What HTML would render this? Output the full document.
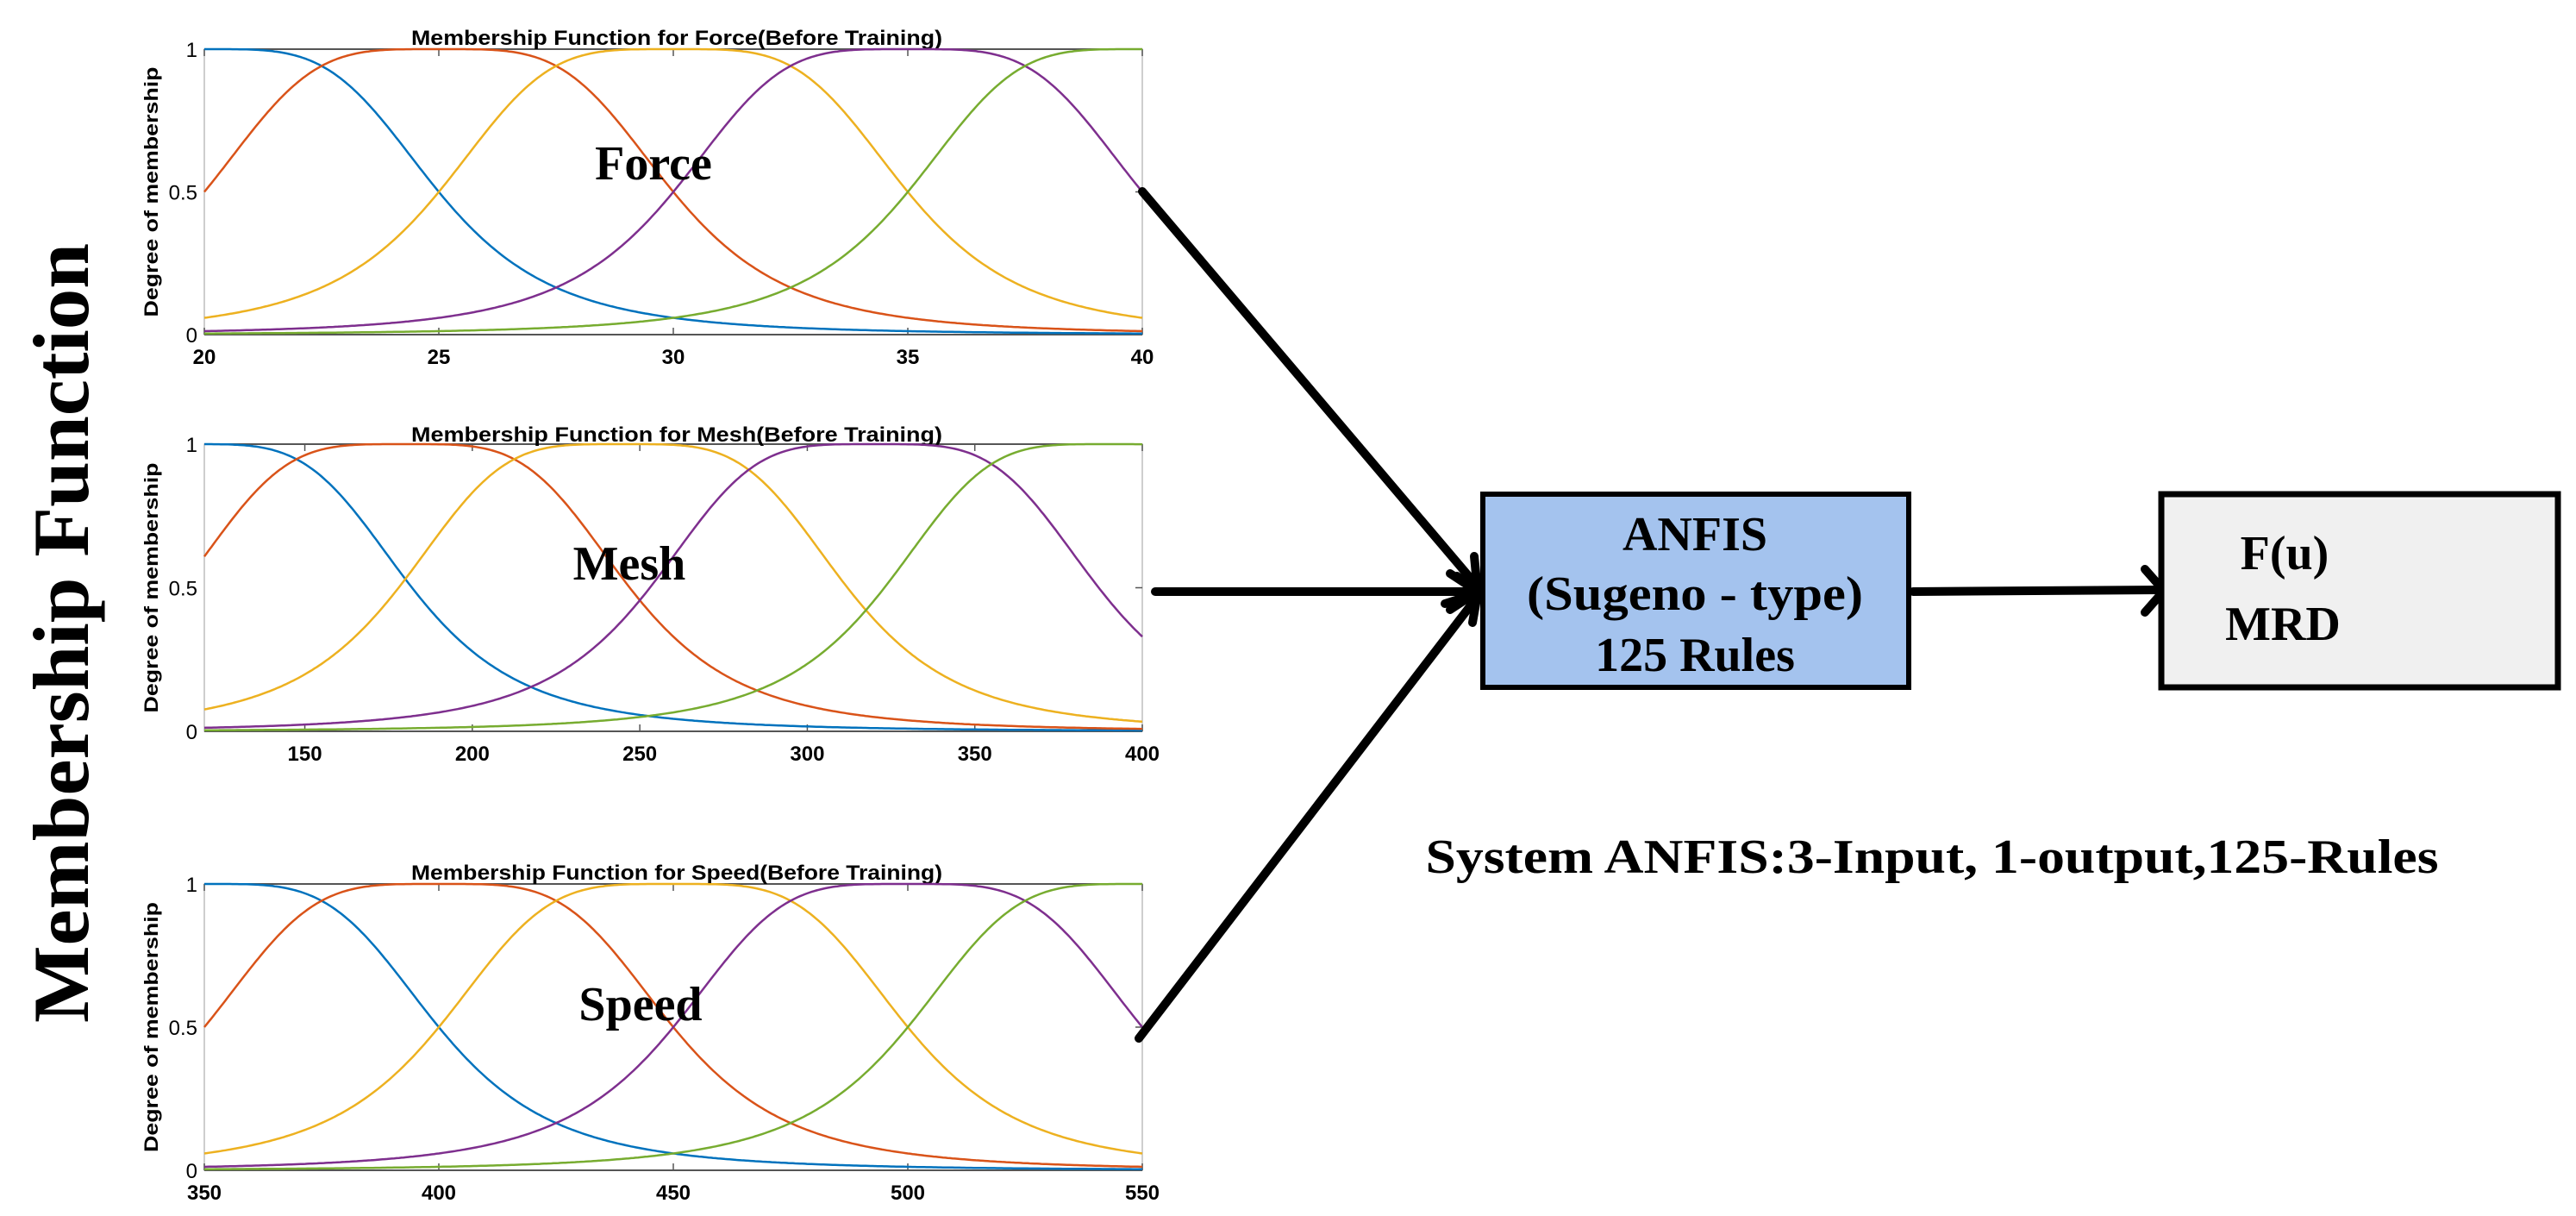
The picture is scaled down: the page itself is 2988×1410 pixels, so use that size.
<!DOCTYPE html>
<html><head><meta charset="utf-8"><style>
html,body{margin:0;padding:0;background:#fff;}
svg{display:block;}
</style></head><body>
<svg id="s" width="2988" height="1410" viewBox="0 0 2988 1410" xmlns="http://www.w3.org/2000/svg">
<rect width="2988" height="1410" fill="#fff"/>
<text transform="translate(102,734) rotate(-90)" text-anchor="middle" font-family="Liberation Serif, serif" font-weight="bold" font-size="92" textLength="904" lengthAdjust="spacingAndGlyphs">Membership Function</text>
<g id="plots"></g>
<g stroke="#000" stroke-width="10" fill="none" stroke-linecap="round" stroke-linejoin="round">
<line x1="1325" y1="222" x2="1712" y2="678"/>
<line x1="1340" y1="686" x2="1712" y2="686"/>
<line x1="1321" y1="1204" x2="1712" y2="694"/>
<polyline points="1682,665 1714,686 1682,707"/>
<polyline points="1710,645 1714,686 1690,668"/>
<polyline points="1676,700 1714,688 1708,722"/>
<line x1="2219" y1="686" x2="2506" y2="684"/>
<polyline points="2488,660 2510,685 2488,710"/>
</g>
<rect x="1720" y="573" width="494" height="224" fill="#a4c3ee" stroke="#000" stroke-width="6"/>
<rect x="1720" y="570" width="494" height="6" fill="#000"/>
<rect x="2507" y="573" width="460" height="224" fill="#f0f0f0" stroke="#000" stroke-width="7"/>
<rect x="2507" y="570" width="460" height="6" fill="#000"/>
<g font-family="Liberation Serif, serif" font-weight="bold" font-size="56" text-anchor="middle">
<text x="1966" y="638">ANFIS</text>
<text x="1966" y="707" textLength="390" lengthAdjust="spacingAndGlyphs">(Sugeno - type)</text>
<text x="1966" y="778">125 Rules</text>
<text x="2650" y="660">F(u)</text>
<text x="2648" y="742">MRD</text>
<text x="2241" y="1012" textLength="1175" lengthAdjust="spacingAndGlyphs">System ANFIS:3-Input, 1-output,125-Rules</text>
</g>
</svg>
<script>
(function(){
var NS="http://www.w3.org/2000/svg";
var g=document.getElementById("plots");
var cols=["#0072BD","#D95319","#EDB120","#7E2F8E","#77AC30"];
function el(t,a,txt){var e=document.createElementNS(NS,t);for(var k in a)e.setAttribute(k,a[k]);if(txt!=null)e.textContent=txt;g.appendChild(e);return e;}
var plots=[
 {top:57,bot:388,title:"Membership Function for Force(Before Training)",ty:44,xmin:20,xmax:40,ticks:[20,25,30,35,40],c:[20,25,30,35,40],a:5,lab:"Force",lx:758,ly:208},
 {top:515,bot:848,title:"Membership Function for Mesh(Before Training)",ty:504,xmin:120,xmax:400,ticks:[150,200,250,300,350,400],c:[115,180,245,320,390],a:67,lab:"Mesh",lx:730,ly:672},
 {top:1025,bot:1357,title:"Membership Function for Speed(Before Training)",ty:1012,xmin:350,xmax:550,ticks:[350,400,450,500,550],c:[350,400,450,500,550],a:50,lab:"Speed",lx:743,ly:1183}
];
var L=237,R=1325;
plots.forEach(function(p){
 var H=p.bot-p.top;
 function X(v){return L+(v-p.xmin)/(p.xmax-p.xmin)*(R-L);}
 el("rect",{x:L,y:p.top,width:R-L,height:H,fill:"#fff",stroke:"#bdbdbd","stroke-width":1.5});
 el("line",{x1:L,y1:p.top,x2:R,y2:p.top,stroke:"#555","stroke-width":2});
 el("line",{x1:L,y1:p.bot,x2:R,y2:p.bot,stroke:"#555","stroke-width":2});
 p.ticks.forEach(function(t){var x=X(t);
  el("line",{x1:x,y1:p.bot,x2:x,y2:p.bot-8,stroke:"#555","stroke-width":1.5});
  el("line",{x1:x,y1:p.top,x2:x,y2:p.top+8,stroke:"#555","stroke-width":1.5});
  el("text",{x:x,y:p.bot+34,"text-anchor":"middle","font-family":"Liberation Sans, sans-serif","font-weight":"bold","font-size":24},String(t));
 });
 [[1,"1"],[0.5,"0.5"],[0,"0"]].forEach(function(q){var y=p.bot-q[0]*H;
  el("text",{x:229,y:y+9,"text-anchor":"end","font-family":"Liberation Sans, sans-serif","font-size":24},q[1]);
  el("line",{x1:R,y1:y,x2:R-8,y2:y,stroke:"#555","stroke-width":1.5});
 });
 var cy=(p.top+p.bot)/2;
 el("text",{transform:"translate(183,"+cy+") rotate(-90)","text-anchor":"middle","font-family":"Liberation Sans, sans-serif","font-weight":"bold","font-size":22,textLength:290,lengthAdjust:"spacingAndGlyphs"},"Degree of membership");
 el("text",{x:(L+R)/2+4,y:p.ty+8,"text-anchor":"middle","font-family":"Liberation Sans, sans-serif","font-weight":"bold","font-size":24,textLength:616,lengthAdjust:"spacingAndGlyphs"},p.title);
 p.c.forEach(function(c,i){
  var d="";
  for(var k=0;k<=400;k++){var v=p.xmin+(p.xmax-p.xmin)*k/400;var u=Math.abs((v-c)/p.a);var m=1/(1+Math.pow(u,4));
   d+=(k?"L":"M")+X(v).toFixed(1)+","+(p.bot-m*H).toFixed(1);}
  el("path",{d:d,fill:"none",stroke:cols[i],"stroke-width":2.5});
 });
 el("text",{x:p.lx,y:p.ly,"text-anchor":"middle","font-family":"Liberation Serif, serif","font-weight":"bold","font-size":56},p.lab);
});
})();
</script>
</body></html>
